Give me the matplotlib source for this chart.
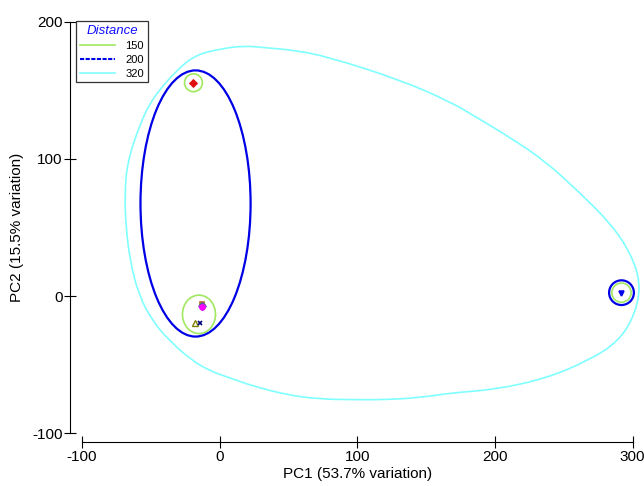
import matplotlib
matplotlib.use("Agg")
import matplotlib.pyplot as plt
import numpy as np
from matplotlib.patches import Ellipse, PathPatch
from matplotlib.path import Path
from matplotlib.lines import Line2D

plt.rcParams['font.family'] = ['Liberation Sans', 'DejaVu Sans']
plt.rcParams['axes.unicode_minus'] = False

# Scores des échantillons (PC1, PC2)
sample_pc1 = [-19, -13, -13, -13, -13, -18, -14, 292]
sample_pc2 = [155, -5.5, -6.5, -7, -8, -19.5, -19.5, 2.5]
sample_marker = ['D', 's', 'o', 'D', 'o', '^', 'x', 'v']
sample_color = ['#e01010', '#c07020', '#40a040', '#8040c0', '#ff00ff', '#808000', '#000080', '#0000ee']

# Groupes à distance 150 / 200 : (centre x, centre y, demi-largeur, demi-hauteur)
groups_150 = [(-19, 155.5, 6.5, 6.5), (-15, -13.3, 12, 14), (292, 2.5, 7, 7)]
groups_200 = [(-17.5, 67.5, 40, 97), (292, 2.5, 9, 9)]

# Contour du groupe à distance 320
outline_320_x = [0, 17, 34, 56, 80, 130, 167, 188, 212, 237, 261, 285, 299, 306,
                 302, 290, 268, 237, 201, 169, 145, 121, 96, 72, 49, 24, 7, -7,
                 -20, -36, -49, -59, -65, -68, -69, -67, -58, -49, -31, -17]
outline_320_y = [180, 182.5, 181, 179, 174, 158, 142, 129.5, 115, 98, 76, 52, 30.5, 9,
                 -13, -33, -47, -60, -68, -70.5, -74, -75.5, -75.5, -75, -72, -65.5, -59.5, -54.5,
                 -47, -33, -18, 1.5, 25.5, 49.5, 74, 98, 125, 144, 165, 176]

legend_labels = ['150', '200', '320']
col_150 = '#a0e860'
col_200 = '#0000e6'
col_320 = '#80ffff'

fig = plt.figure(figsize=(6.44, 4.86), dpi=100)
ax = fig.add_axes([82 / 644, 1 - 433.3 / 486, 550.5 / 644, 411.6 / 486])
ax.set_xlim(-100, 300)
ax.set_ylim(-100, 200)

# contour 320 lissé (B-spline quadratique fermée)
pts = np.column_stack([outline_320_x, outline_320_y]).astype(float)
mids = (pts + np.roll(pts, -1, axis=0)) / 2
verts = [mids[-1]]
codes = [Path.MOVETO]
for i in range(len(pts)):
    verts += [pts[i], mids[i]]
    codes += [Path.CURVE3, Path.CURVE3]
ax.add_patch(PathPatch(Path(verts, codes), fill=False, ec=col_320, lw=1.2, clip_on=False))

for cx, cy, rx, ry in groups_200:
    ax.add_patch(Ellipse((cx, cy), 2 * rx, 2 * ry, fill=False, ec=col_200, lw=1.6,
                         clip_on=False))
for cx, cy, rx, ry in groups_150:
    ax.add_patch(Ellipse((cx, cy), 2 * rx, 2 * ry, fill=False, ec=col_150, lw=1.2, clip_on=False))

for x, y, m, c in zip(sample_pc1, sample_pc2, sample_marker, sample_color):
    if m == '^':
        ax.plot(x, y, m, ms=5, mfc='none', mec=c, mew=1, clip_on=False)
    else:
        ax.plot(x, y, m, ms=3.5, color=c, mew=1.2, clip_on=False)

# axes détachés
for s in ['top', 'right']:
    ax.spines[s].set_visible(False)
ax.spines['left'].set_position(('outward', 8.5))
ax.spines['bottom'].set_position(('outward', 6.5))
ax.spines['left'].set_bounds(-100, 200)
ax.spines['bottom'].set_bounds(-100, 300)
ax.set_xticks([-100, 0, 100, 200, 300])
ax.set_yticks([-100, 0, 100, 200])
ax.tick_params(direction='inout', length=8, width=0.8, labelsize=11, pad=1.5)
ax.set_xlabel('PC1 (53.7% variation)', fontsize=11)
ax.set_ylabel('PC2 (15.5% variation)', fontsize=11)
ax.xaxis.set_label_coords(0.5, -0.083)
ax.yaxis.set_label_coords(-0.105, 0.5)

handles = [Line2D([], [], color=col_150, lw=1.2),
           Line2D([], [], color=col_200, lw=1.5, ls=(0, (2, 0.7))),
           Line2D([], [], color=col_320, lw=1.2)]
leg = ax.legend(handles, legend_labels, title='Distance', loc='upper left',
                bbox_to_anchor=(76 / 644, 1 - 21 / 486), bbox_transform=fig.transFigure,
                borderaxespad=0, fontsize=8, fancybox=False, framealpha=1,
                handlelength=3.2, handletextpad=0.9, labelspacing=0.35,
                borderpad=0.35, title_fontsize=9.5)
leg.get_frame().set_edgecolor('#333333')
leg.get_frame().set_linewidth(0.9)
leg.get_title().set_color('#1010ff')
leg.get_title().set_style('italic')

plt.savefig('out.png', dpi=100, facecolor='white')
plt.close()
